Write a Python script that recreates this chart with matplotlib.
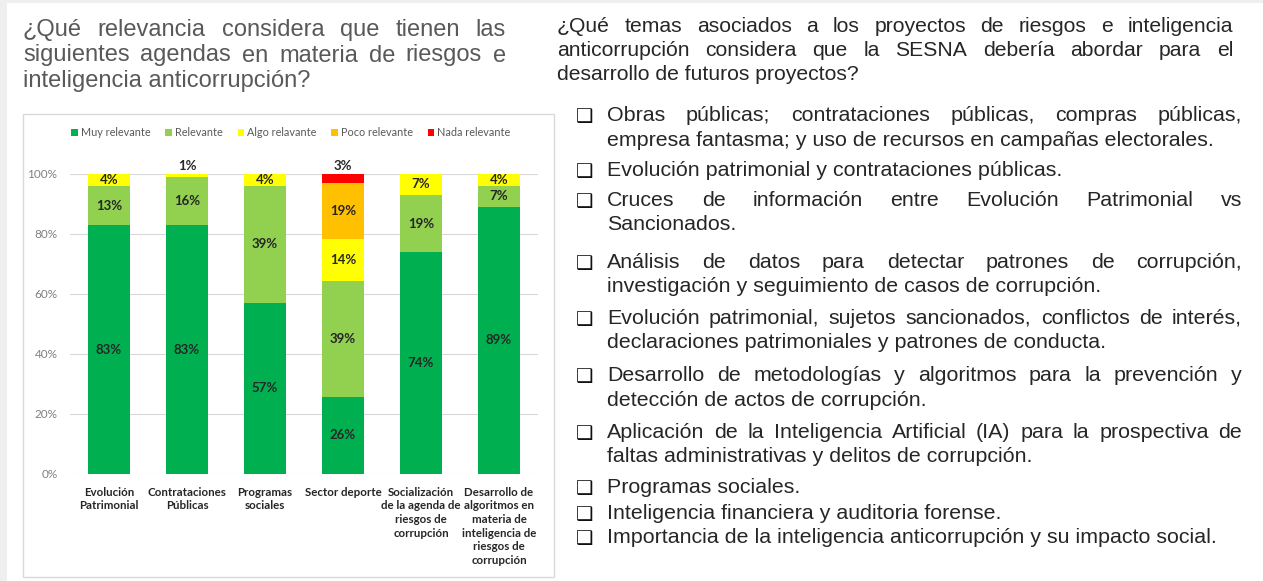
import matplotlib
matplotlib.use("Agg")
import matplotlib.pyplot as plt
from matplotlib import font_manager
from matplotlib.patches import Rectangle
import numpy as np

W, H = 1263, 581

# --- data ---
categories = ["Evolución\nPatrimonial", "Contrataciones\nPúblicas", "Programas\nsociales",
              "Sector deporte", "Socialización\nde la agenda de\nriesgos de\ncorrupción",
              "Desarrollo de\nalgoritmos en\nmateria de\ninteligencia de\nriesgos de\ncorrupción"]
levels = ["Muy relevante", "Relevante", "Algo relavante", "Poco relevante", "Nada relevante"]
muy_relevante = [83, 83, 57, 26, 74, 89]
relevante = [13, 16, 39, 39, 19, 7]
algo_relevante = [4, 1, 4, 14, 7, 4]
poco_relevante = [0, 0, 0, 19, 0, 0]
nada_relevante = [0, 0, 0, 3, 0, 0]
colors = ["#00B050", "#92D050", "#FFFF00", "#FFC000", "#FF0000"]

left_title = ["¿Qué relevancia considera que tienen las",
              "siguientes agendas en materia de riesgos e",
              "inteligencia anticorrupción?"]
right_title = ["¿Qué temas asociados a los proyectos de riesgos e inteligencia",
               "anticorrupción considera que la SESNA debería abordar para el",
               "desarrollo de futuros proyectos?"]
temas = [
    ["Obras públicas; contrataciones públicas, compras públicas,",
     "empresa fantasma; y uso de recursos en campañas electorales."],
    ["Evolución patrimonial y contrataciones públicas."],
    ["Cruces de información entre Evolución Patrimonial vs",
     "Sancionados."],
    ["Análisis de datos para detectar patrones de corrupción,",
     "investigación y seguimiento de casos de corrupción."],
    ["Evolución patrimonial, sujetos sancionados, conflictos de interés,",
     "declaraciones patrimoniales y patrones de conducta."],
    ["Desarrollo de metodologías y algoritmos para la prevención y",
     "detección de actos de corrupción."],
    ["Aplicación de la Inteligencia Artificial (IA) para la prospectiva de",
     "faltas administrativas y delitos de corrupción."],
    ["Programas sociales."],
    ["Inteligencia financiera y auditoria forense."],
    ["Importancia de la inteligencia anticorrupción y su impacto social."],
]
tema_baselines = [121, 176, 206, 268, 324, 381, 438, 493, 519, 543]


def fx(x):
    return x / W


def fy(y):
    return 1 - y / H


def have(name):
    try:
        font_manager.findfont(font_manager.FontProperties(family=name),
                              fallback_to_default=False)
        return True
    except ValueError:
        return False


if have("Liberation Sans Narrow"):
    slide_font, scale = "Liberation Sans Narrow", 1.18
else:
    slide_font, scale = "Liberation Sans", 1.0

fig = plt.figure(figsize=(W / 100, H / 100), dpi=100, facecolor="white")
renderer = fig.canvas.get_renderer()

# thin gray window edge
fig.add_artist(Rectangle((0, fy(3)), 1, 3 / H, transform=fig.transFigure,
                         color="#efefef", lw=0))
fig.add_artist(Rectangle((0, 0), 7 / W, 1, transform=fig.transFigure,
                         color="#efefef", lw=0))


def justified(lines, x0, x1, y0, dy, **kw):
    for i, line in enumerate(lines):
        y = fy(y0 + i * dy)
        words = line.split(" ")
        if i == len(lines) - 1 or len(words) == 1:
            fig.text(fx(x0), y, line, va="baseline", **kw)
            continue
        items = [fig.text(0, y, w, va="baseline", **kw) for w in words]
        widths = [t.get_window_extent(renderer).width for t in items]
        gap = (x1 - x0 - sum(widths)) / (len(words) - 1)
        x = x0
        for t, w in zip(items, widths):
            t.set_x(fx(x))
            x += w + gap


justified(left_title, 23, 506, 36, 25.5, fontsize=17 * scale,
          family=slide_font, color="#595959")
justified(right_title, 557, 1233, 32, 24, fontsize=15.2 * scale,
          family=slide_font, color="#262626")

for lines, base in zip(temas, tema_baselines):
    fig.text(fx(576), fy(base + 1), "\u2751", fontsize=14, family="DejaVu Sans",
             color="#111111", va="baseline")
    justified(lines, 607, 1242, base, 24.5, fontsize=15.4 * scale,
              family=slide_font, color="#262626")

# chart panel frame
fig.add_artist(Rectangle((fx(23), fy(577)), (554 - 23) / W, (577 - 114) / H,
                         transform=fig.transFigure, fill=False,
                         ec="#d9d9d9", lw=1))

# --- stacked 100% bars ---
plt.rcParams["font.family"] = ["Lato", "DejaVu Sans"]
ax = fig.add_axes([fx(70), fy(474), 468 / W, 300 / H])
data = np.array([muy_relevante, relevante, algo_relevante,
                 poco_relevante, nada_relevante], dtype=float)
shares = data / data.sum(axis=0) * 100
x = np.arange(len(categories))
bottom = np.zeros(len(categories))
for lvl, vals, share, c in zip(levels, data, shares, colors):
    ax.bar(x, share, 0.55, bottom=bottom, color=c, label=lvl, zorder=2)
    for xi, v, s, b in zip(x, vals, share, bottom):
        if v == 0:
            continue
        ypos = 102.6 if v <= 3 else b + s / 2
        ax.text(xi, ypos, f"{v:.0f}%", ha="center", va="center", fontsize=9.5,
                fontweight="bold", color="#262626", zorder=3)
    bottom += share

ax.set_xlim(-0.5, len(categories) - 0.5)
ax.set_ylim(0, 100)
ax.set_yticks(np.arange(0, 101, 20))
ax.set_yticklabels([f"{v}%" for v in range(0, 101, 20)])
ax.set_xticks(x)
ax.set_xticklabels(categories, fontsize=8.3, fontweight="bold", color="#262626",
                   linespacing=1.3, va="top")
ax.tick_params(axis="y", length=0, pad=9, labelsize=8.5, labelcolor="#808080")
ax.tick_params(axis="x", length=0, pad=9)
ax.grid(axis="y", color="#d9d9d9", lw=0.8, zorder=0)
ax.set_axisbelow(True)
for sp in ax.spines.values():
    sp.set_visible(False)

ax.legend(loc="center", bbox_to_anchor=(fx(291), fy(133)),
          bbox_transform=fig.transFigure, ncol=5, frameon=False, fontsize=7.8,
          handlelength=0.6, handleheight=0.6, handletextpad=0.3,
          columnspacing=1.35, labelcolor="#595959")

fig.savefig("out.png", dpi=100)
